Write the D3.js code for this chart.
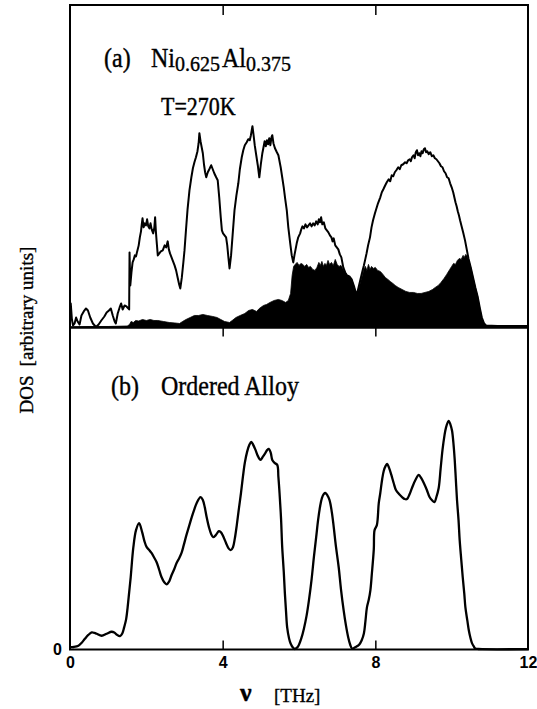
<!DOCTYPE html>
<html>

<head>
    <meta charset="utf-8">
    <style>
        body {
            margin: 0;
            background: white;
        }

        svg {
            display: block;
        }

        .serif {
            font-family: 'Liberation Serif', 'Times New Roman', serif;
            stroke: black;
            stroke-width: 0.35px;
        }

        .ticklab text {
            font-family: 'Liberation Sans', Arial, sans-serif;
            font-weight: bold;
            font-size: 16px;
        }
    </style>
</head>

<body>
    <svg width="537" height="709"></svg>
</body>

<script src="https://d3js.org/d3.v7.min.js"></script>

<script>
//------------------------1. DATA------------------------//
// frequency ticks (THz)
let xTicks = [0, 4, 8, 12]
let innerTicks = [4, 8]

// (a) total DOS of the disordered alloy, [nu, DOS]
let totalDOS = [[0,20],[0.02,24],[0.05,8],[0.08,2],[0.12,4],[0.16,10],[0.2,6],[0.25,3],[0.3,12],[0.36,16],[0.42,19],[0.47,17],[0.53,10],[0.6,4],[0.68,0.5],[0.75,3],[0.82,7],[0.9,11],[0.96,15],[1.02,17],[1.07,19],[1.12,12],[1.17,6],[1.2,4],[1.25,14],[1.3,20],[1.34,24],[1.38,18],[1.43,22],[1.48,21],[1.53,19],[1.55,18],[1.56,75],[1.58,42],[1.61,55],[1.64,65],[1.67,68],[1.7,72],[1.73,71],[1.76,76],[1.8,82],[1.83,90],[1.86,96],[1.88,103],[1.9,109],[1.93,100],[1.96,104],[1.99,102],[2.02,108],[2.05,101],[2.08,99],[2.11,104],[2.14,98],[2.18,94],[2.21,100],[2.23,110],[2.25,96],[2.27,86],[2.3,72],[2.34,74],[2.38,76],[2.43,77],[2.48,82],[2.52,80],[2.56,86],[2.59,78],[2.62,74],[2.66,70],[2.7,66],[2.74,62],[2.78,57],[2.82,50],[2.86,43],[2.89,39],[2.93,50],[2.97,65],[3.0,77],[3.04,98],[3.08,118],[3.13,137],[3.18,150],[3.22,159],[3.26,165],[3.3,170],[3.34,176],[3.37,184],[3.39,194],[3.42,186],[3.45,180],[3.48,174],[3.51,163],[3.54,155],[3.57,150],[3.61,155],[3.65,158],[3.7,162],[3.74,158],[3.78,154],[3.83,150],[3.87,147],[3.91,130],[3.95,110],[3.98,97],[4.01,94],[4.05,92],[4.09,90],[4.12,82],[4.15,70],[4.18,59],[4.22,72],[4.26,92],[4.31,117],[4.36,132],[4.41,144],[4.45,158],[4.5,170],[4.54,177],[4.58,182],[4.63,185],[4.67,188],[4.71,187],[4.74,192],[4.78,201],[4.81,192],[4.84,182],[4.88,172],[4.92,162],[4.96,150],[5.0,163],[5.04,174],[5.07,180],[5.1,186],[5.13,181],[5.16,187],[5.19,183],[5.22,189],[5.25,182],[5.28,190],[5.3,192],[5.33,184],[5.37,179],[5.42,175],[5.46,172],[5.52,160],[5.56,150],[5.6,140],[5.64,128],[5.68,117],[5.72,100],[5.77,84],[5.81,72],[5.85,65],[5.88,72],[5.91,78],[5.94,84],[5.98,90],[6.03,94],[6.06,98],[6.09,101],[6.13,99],[6.17,103],[6.21,100],[6.25,102],[6.29,104],[6.33,101],[6.37,104],[6.41,102],[6.45,106],[6.49,103],[6.52,108],[6.55,105],[6.58,110],[6.61,103],[6.65,105],[6.69,99],[6.73,97],[6.77,95],[6.81,92],[6.85,90],[6.88,86],[6.91,89],[6.95,82],[6.99,80],[7.03,78],[7.07,73],[7.11,70],[7.16,60],[7.21,55],[7.26,52],[7.32,51],[7.38,48],[7.45,40],[7.51,32],[7.56,40],[7.61,48],[7.66,56],[7.7,62],[7.73,67],[7.77,74],[7.81,82],[7.86,90],[7.9,100],[7.94,107],[7.99,114],[8.03,119],[8.07,124],[8.1,127],[8.13,130],[8.17,135],[8.21,138],[8.26,142],[8.3,145],[8.35,148],[8.39,146],[8.43,152],[8.47,151],[8.51,155],[8.55,157],[8.6,160],[8.64,158],[8.68,162],[8.73,163],[8.78,165],[8.82,164],[8.86,167],[8.9,168],[8.93,166],[8.96,170],[9.0,172],[9.03,169],[9.06,175],[9.09,177],[9.12,172],[9.15,174],[9.18,171],[9.21,176],[9.24,174],[9.27,178],[9.3,179],[9.33,175],[9.36,176],[9.4,173],[9.44,175],[9.48,171],[9.52,172],[9.56,169],[9.6,168],[9.64,166],[9.68,164],[9.72,161],[9.76,160],[9.8,156],[9.84,154],[9.88,150],[9.92,149],[9.96,144],[10.0,140],[10.04,135],[10.07,130],[10.1,125],[10.13,121],[10.16,116],[10.19,112],[10.22,107],[10.26,101],[10.3,95],[10.35,87],[10.4,77],[10.44,69],[10.5,60],[10.56,50],[10.62,40],[10.68,31],[10.74,19],[10.79,10],[10.85,4],[10.9,2],[11.2,1.5],[12,1.5]]

// (a) partial DOS (filled black), [nu, DOS]
let partialDOS = [[0,0.5],[0.5,1],[1.0,1],[1.5,1.5],[1.56,3],[1.6,6],[1.66,5],[1.72,7],[1.8,6.5],[1.9,8],[2.0,7],[2.1,8],[2.2,7],[2.3,7],[2.45,6],[2.6,5],[2.75,4.5],[2.87,4],[2.95,6],[3.04,8],[3.15,10],[3.26,12],[3.37,12],[3.48,13],[3.6,12],[3.74,11],[3.85,10],[3.95,8],[4.05,6],[4.18,5],[4.25,7],[4.35,10],[4.46,12],[4.58,14],[4.68,17],[4.78,18],[4.89,16],[4.96,19],[5.07,22],[5.15,23],[5.24,25],[5.35,27],[5.46,28],[5.55,27],[5.65,25],[5.72,27],[5.78,34],[5.82,52],[5.86,61],[5.9,63],[5.95,65],[6.0,62],[6.05,64],[6.1,63],[6.15,61],[6.2,63],[6.25,60],[6.3,61],[6.36,58],[6.42,57],[6.47,60],[6.52,65],[6.56,62],[6.6,66],[6.64,61],[6.68,64],[6.72,62],[6.76,67],[6.8,63],[6.85,65],[6.9,62],[6.95,68],[7.0,63],[7.05,61],[7.1,62],[7.16,58],[7.21,55],[7.26,52],[7.32,51],[7.38,48],[7.45,40],[7.51,32],[7.56,38],[7.61,45],[7.66,52],[7.7,58],[7.74,61],[7.78,57],[7.82,63],[7.86,58],[7.9,61],[7.95,59],[8.0,60],[8.06,57],[8.13,56],[8.2,53],[8.26,50],[8.33,48],[8.39,46],[8.46,44],[8.52,42],[8.6,40],[8.7,38],[8.8,36],[8.9,35],[9.0,35],[9.1,34],[9.2,34],[9.3,35],[9.4,36],[9.5,38],[9.57,40],[9.65,42],[9.72,45],[9.8,49],[9.87,53],[9.95,58],[10.0,61],[10.05,64],[10.1,63],[10.15,67],[10.2,69],[10.25,68],[10.3,72],[10.33,70],[10.37,73],[10.41,71],[10.45,67],[10.5,60],[10.56,50],[10.62,40],[10.68,31],[10.74,19],[10.79,10],[10.85,4],[10.9,2],[11.2,1.5],[12,1.5]]

// (b) ordered alloy DOS, [nu, DOS]
let orderedDOS = [[0,2.3],[0.1,2.5],[0.22,3.7],[0.3,6.5],[0.39,10.7],[0.48,14.5],[0.57,17],[0.64,16.5],[0.7,15.7],[0.83,13.7],[0.96,15.7],[1.09,17.7],[1.16,17],[1.22,15],[1.31,13.3],[1.37,16],[1.42,22.3],[1.47,30],[1.51,42],[1.55,57],[1.59,72],[1.66,102],[1.73,119],[1.81,126],[1.89,117],[1.95,108],[2.01,102],[2.08,99],[2.14,96],[2.2,92],[2.27,87],[2.34,79],[2.4,72],[2.47,67],[2.53,65],[2.6,68],[2.66,74],[2.73,80],[2.79,86],[2.86,91],[2.92,96],[2.98,104],[3.05,114],[3.12,123],[3.19,132],[3.26,140],[3.32,146],[3.42,152],[3.48,149],[3.53,142],[3.58,132],[3.64,122],[3.7,115],[3.75,112],[3.82,114],[3.9,118],[3.95,117],[4.0,114],[4.09,106],[4.15,101],[4.21,99],[4.27,102],[4.32,111],[4.37,124],[4.42,139],[4.48,156],[4.53,172],[4.58,186],[4.64,197],[4.7,204],[4.75,207],[4.8,204],[4.86,199],[4.92,193],[4.99,189],[5.05,192],[5.12,196],[5.17,199],[5.21,200],[5.26,196],[5.3,189],[5.36,186],[5.43,184],[5.46,172],[5.49,156],[5.53,130],[5.56,102],[5.6,78],[5.63,56],[5.66,38],[5.69,22],[5.74,11],[5.78,6],[5.84,2],[5.89,0.5],[5.94,1.5],[5.99,4],[6.06,11],[6.13,21],[6.2,34],[6.26,49],[6.33,70],[6.39,92],[6.45,112],[6.5,129],[6.55,142],[6.6,151],[6.65,155],[6.69,156],[6.74,154],[6.8,149],[6.86,137],[6.91,122],[6.97,102],[7.04,82],[7.1,60],[7.17,39],[7.23,24],[7.29,12],[7.34,5],[7.39,1],[7.44,1.5],[7.48,2.3],[7.53,3.5],[7.58,5],[7.64,9],[7.7,16],[7.74,28],[7.78,42],[7.83,50],[7.87,59],[7.91,76],[7.96,100],[7.98,119],[8.04,124],[8.09,146],[8.13,156],[8.18,170],[8.22,178],[8.27,183],[8.31,185],[8.36,181],[8.42,174],[8.48,166],[8.54,159],[8.62,155],[8.7,152],[8.77,150],[8.83,150],[8.9,155],[8.96,161],[9.05,169],[9.14,174],[9.2,171],[9.27,166],[9.35,159],[9.42,152],[9.48,149],[9.55,147],[9.6,152],[9.66,161],[9.71,180],[9.76,199],[9.81,213],[9.85,221],[9.92,228],[9.97,224],[10.01,218],[10.05,204],[10.08,189],[10.11,169],[10.14,149],[10.18,129],[10.21,109],[10.25,90],[10.29,72],[10.33,56],[10.36,42],[10.41,29],[10.45,19],[10.49,12],[10.53,6.6],[10.58,3],[10.62,1],[10.7,0.5],[10.8,0.3],[12,0.3]]

//------------------------2. SVG & SCALES------------------------//
let svg = d3.select("body").select("svg")

let plotLeft = 70, plotRight = 528
let plotTop = 5, plotMid = 327.5, plotBottom = 649.5

let x = d3.scaleLinear()
    .domain([0, 12])
    .range([plotLeft, plotRight])

// each panel has its own arbitrary DOS scale
let yTop = d3.scaleLinear()
    .domain([0, 322])
    .range([plotMid, plotTop])

let yBot = d3.scaleLinear()
    .domain([0, 321])
    .range([plotBottom, plotMid])

//------------------------3. PANEL (a)------------------------//
let area = d3.area()
    .x(d => x(d[0]))
    .y0(yTop(0))
    .y1(d => yTop(d[1]))

svg.append("path")
    .attr("d", area(partialDOS))
    .attr("fill", "black")
    .attr("stroke", "black")
    .attr("stroke-width", 0.8)

let lineTop = d3.line()
    .x(d => x(d[0]))
    .y(d => yTop(d[1]))

svg.append("path")
    .attr("d", lineTop(totalDOS))
    .attr("fill", "none")
    .attr("stroke", "black")
    .attr("stroke-width", 2)
    .attr("stroke-linejoin", "round")

//------------------------4. PANEL (b)------------------------//
let lineBot = d3.line()
    .curve(d3.curveCatmullRom)
    .x(d => x(d[0]))
    .y(d => yBot(d[1]))

svg.append("path")
    .attr("d", lineBot(orderedDOS))
    .attr("fill", "none")
    .attr("stroke", "black")
    .attr("stroke-width", 2.3)
    .attr("stroke-linejoin", "round")

//------------------------5. FRAMES & AXES------------------------//
svg.append("rect")
    .attr("x", plotLeft).attr("y", plotTop)
    .attr("width", plotRight - plotLeft).attr("height", plotMid - plotTop)
    .attr("fill", "none").attr("stroke", "black").attr("stroke-width", 2)

svg.append("rect")
    .attr("x", plotLeft).attr("y", plotMid)
    .attr("width", plotRight - plotLeft).attr("height", plotBottom - plotMid)
    .attr("fill", "none").attr("stroke", "black").attr("stroke-width", 2)

// inward ticks on top edge of each panel
svg.append("g")
    .attr("transform", `translate(0,${plotTop})`)
    .call(d3.axisTop(x).tickValues(innerTicks).tickSizeInner(-10).tickSizeOuter(0).tickFormat(""))
    .call(g => g.select(".domain").remove())
    .call(g => g.selectAll(".tick line").attr("stroke-width", 1.5))

svg.append("g")
    .attr("transform", `translate(0,${plotMid})`)
    .call(d3.axisTop(x).tickValues(innerTicks).tickSizeInner(-9).tickSizeOuter(0).tickFormat(""))
    .call(g => g.select(".domain").remove())
    .call(g => g.selectAll(".tick line").attr("stroke-width", 1.5))

// bottom axis with labels, ticks pointing up
svg.append("g")
    .attr("class", "ticklab")
    .attr("transform", `translate(0,${plotBottom})`)
    .call(d3.axisBottom(x).tickValues(xTicks).tickSizeInner(-9).tickSizeOuter(0).tickPadding(7))
    .call(g => g.select(".domain").remove())
    .call(g => g.selectAll(".tick line")
        .attr("stroke-width", 1.5)
        .attr("opacity", d => (d == 0 || d == 12) ? 0 : 1))
    .call(g => g.selectAll(".tick text").attr("fill", "black"))

// zero label of panel (b)
svg.append("g")
    .attr("class", "ticklab")
    .attr("transform", `translate(${plotLeft},0)`)
    .call(d3.axisLeft(yBot).tickValues([0]).tickSize(0).tickPadding(8))
    .call(g => g.select(".domain").remove())
    .call(g => g.selectAll(".tick text").attr("fill", "black"))

//------------------------6. TEXT------------------------//
// scanned text is a little taller than it is wide
let labA = svg.append("text")
    .attr("class", "serif")
    .attr("transform", "translate(104,67) scale(1,1.1)")
    .attr("font-size", 24)
labA.append("tspan").text("(a)")
labA.append("tspan").attr("x", 47).text("Ni")
labA.append("tspan").attr("dy", 4).attr("font-size", 20).text("0.625")
labA.append("tspan").attr("dy", -4).attr("dx", 2).text("Al")
labA.append("tspan").attr("dy", 4).attr("font-size", 20).text("0.375")

svg.append("text")
    .attr("class", "serif")
    .attr("transform", "translate(161,115) scale(1,1.1)")
    .attr("font-size", 22)
    .text("T=270K")

let labB = svg.append("text")
    .attr("class", "serif")
    .attr("transform", "translate(111,395) scale(1,1.1)")
    .attr("font-size", 24)
labB.append("tspan").text("(b)")
labB.append("tspan").attr("x", 50).text("Ordered Alloy")

let ylab = svg.append("text")
    .attr("class", "serif")
    .attr("transform", "translate(33,330) rotate(-90)")
    .attr("text-anchor", "middle")
    .attr("font-size", 19)
ylab.append("tspan").text("DOS")
ylab.append("tspan").attr("dx", 9).text("[arbitrary units]")

svg.append("text")
    .attr("class", "serif")
    .attr("x", 240).attr("y", 701)
    .attr("font-size", 26)
    .attr("font-weight", "bold")
    .text("ν")

svg.append("text")
    .attr("class", "serif")
    .attr("x", 274).attr("y", 702)
    .attr("font-size", 19)
    .text("[THz]")
</script>

</html>
